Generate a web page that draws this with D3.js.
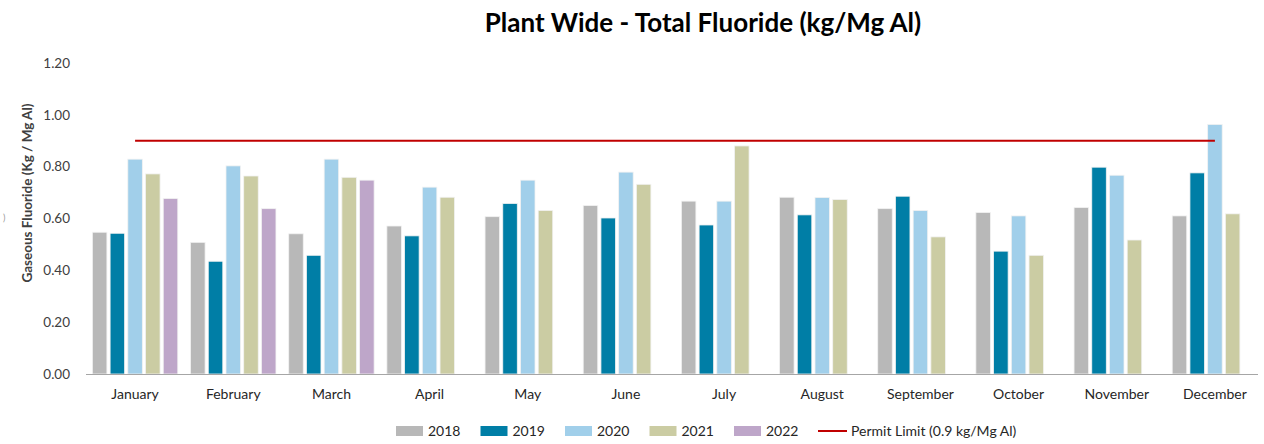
<!DOCTYPE html>
<html>
<head>
<meta charset="utf-8">
<script src="https://cdn.jsdelivr.net/npm/d3@7"></script>
<style>
  body { margin: 0; background: #fff; }
  text { font-family: Lato, "Open Sans", sans-serif; }
</style>
</head>
<body>
<div id="chart"></div>
<script>
let w = 1264;
let h = 444;

// data
const months = ["January","February","March","April","May","June","July","August","September","October","November","December"];
const years = ["2018","2019","2020","2021","2022"];
const v2018 = [0.547,0.508,0.541,0.571,0.607,0.650,0.667,0.682,0.638,0.623,0.642,0.610];
const v2019 = [0.543,0.435,0.458,0.533,0.658,0.602,0.575,0.614,0.686,0.474,0.798,0.776];
const v2020 = [0.829,0.803,0.829,0.721,0.748,0.779,0.667,0.681,0.631,0.610,0.767,0.963];
const v2021 = [0.772,0.764,0.759,0.682,0.631,0.732,0.880,0.673,0.529,0.458,0.517,0.618];
const v2022 = [0.677,0.638,0.748,null,null,null,null,null,null,null,null,null];
const permitLimit = 0.9;
const yTicks = [0, 0.2, 0.4, 0.6, 0.8, 1.0, 1.2];
const colors = ["#b8b8b8","#007ea6","#a1cfea","#cbcca3","#bea6c9"];

const series = [v2018, v2019, v2020, v2021, v2022];

let svg = d3.select("#chart")
    .append("svg")
    .attr("width", w)
    .attr("height", h);

let xScale = d3.scaleBand()
    .domain(months)
    .range([86, 1264])
    .paddingInner(0.13)
    .paddingOuter(0.065);

let xInner = d3.scaleBand()
    .domain(years)
    .range([0, xScale.bandwidth()])
    .paddingInner(0.18);

let yScale = d3.scaleLinear()
    .domain([0, 1.2])
    .range([374, 63]);

// title
svg.append("text")
    .attr("x", 703)
    .attr("y", 32)
    .attr("text-anchor", "middle")
    .style("font-size", "26px")
    .style("font-weight", "bold")
    .style("fill", "#000")
    .text("Plant Wide - Total Fluoride (kg/Mg Al)");

// y axis
let yAxis = d3.axisLeft(yScale)
    .tickValues(yTicks)
    .tickSize(0)
    .tickPadding(0)
    .tickFormat(d3.format(".2f"));

let gy = svg.append("g")
    .attr("transform", "translate(70,0)")
    .call(yAxis);
gy.select(".domain").remove();
gy.selectAll("text")
    .style("font-size", "13.5px")
    .style("fill", "#404040")
    .style("font-family", "Lato, sans-serif");

svg.append("text")
    .attr("transform", "translate(32,193) rotate(-90)")
    .attr("text-anchor", "middle")
    .style("font-size", "13.5px")
    .style("font-weight", "bold")
    .style("fill", "#404040")
    .text("Gaseous Fluoride (Kg / Mg  Al)");

// stray mark at the far left
svg.append("text")
    .attr("x", 3)
    .attr("y", 221)
    .style("font-size", "9px")
    .style("fill", "#999")
    .text(")");

// bars
let groups = svg.append("g")
    .selectAll("g")
    .data(series)
    .enter()
    .append("g")
    .attr("fill", (d, i) => colors[i]);

groups.selectAll("rect")
    .data((d, i) => d.map((v, j) => ({ month: months[j], year: years[i], value: v })).filter(p => p.value !== null))
    .enter()
    .append("rect")
    .attr("x", d => xScale(d.month) + xInner(d.year))
    .attr("y", d => yScale(d.value))
    .attr("width", xInner.bandwidth())
    .attr("height", d => yScale(0) - yScale(d.value))
    .attr("stroke", "#f2f2f2")
    .attr("stroke-width", 0.8);

// x axis
let xAxis = d3.axisBottom(xScale).tickSize(0).tickPadding(15);
let gx = svg.append("g")
    .attr("transform", "translate(0,374)")
    .call(xAxis);
gx.select(".domain")
    .attr("d", "M86,0.5H1258")
    .attr("stroke", "#a6a6a6")
    .attr("stroke-width", 1.2);
gx.selectAll("text")
    .style("font-size", "14px")
    .style("fill", "#262626")
    .style("font-family", "Lato, sans-serif");

// permit limit line
svg.append("line")
    .attr("x1", xScale(months[0]) + xScale.bandwidth() / 2)
    .attr("x2", xScale(months[11]) + xScale.bandwidth() / 2)
    .attr("y1", yScale(permitLimit))
    .attr("y2", yScale(permitLimit))
    .attr("stroke", "#c00000")
    .attr("stroke-width", 2.2);

// legend
let legend = svg.append("g").attr("transform", "translate(396,431)");
years.forEach((yr, i) => {
    let g = legend.append("g").attr("transform", "translate(" + (i * 84.5) + ",0)");
    g.append("rect")
        .attr("x", 0).attr("y", -5)
        .attr("width", 27).attr("height", 10)
        .attr("fill", colors[i]);
    g.append("text")
        .attr("x", 32).attr("y", 5)
        .style("font-size", "14px")
        .style("fill", "#262626")
        .text(yr);
});
let lg = legend.append("g").attr("transform", "translate(422,0)");
lg.append("line")
    .attr("x1", 0).attr("x2", 29)
    .attr("y1", 0).attr("y2", 0)
    .attr("stroke", "#c00000")
    .attr("stroke-width", 2);
lg.append("text")
    .attr("x", 33).attr("y", 5)
    .style("font-size", "14px")
    .style("fill", "#262626")
    .text("Permit Limit (0.9 kg/Mg Al)");
</script>
</body>
</html>
